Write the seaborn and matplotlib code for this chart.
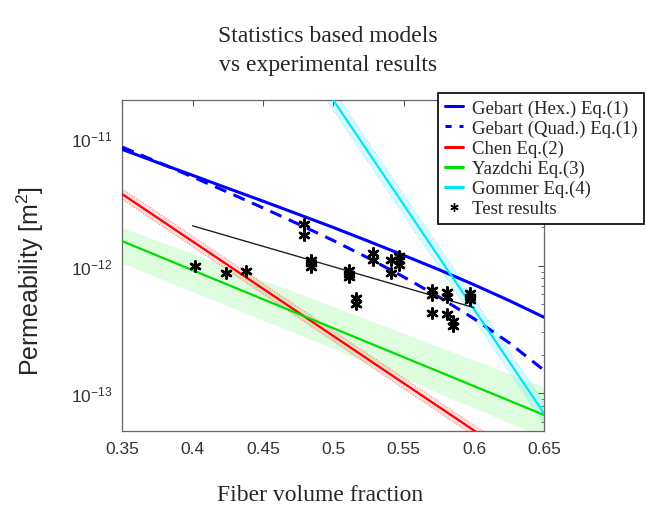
import numpy as np
import pandas as pd
import matplotlib
matplotlib.use("Agg")
import matplotlib.pyplot as plt
from matplotlib.lines import Line2D
from matplotlib.ticker import FixedLocator, NullFormatter, LogLocator
import seaborn as sns

# ---------------- data ----------------
vf_grid = [0.35, 0.375, 0.40, 0.425, 0.45, 0.475, 0.50, 0.525, 0.55, 0.575, 0.60, 0.625, 0.65]
gebart_hex = [8.19e-12, 6.47e-12, 5.13e-12, 4.06e-12, 3.22e-12, 2.54e-12, 2.00e-12,
              1.56e-12, 1.21e-12, 9.34e-13, 7.11e-13, 5.34e-13, 3.94e-13]
gebart_quad = [8.54e-12, 6.53e-12, 4.98e-12, 3.78e-12, 2.85e-12, 2.13e-12, 1.58e-12,
               1.15e-12, 8.19e-13, 5.71e-13, 3.85e-13, 2.49e-13, 1.51e-13]

chen_vf = [0.35, 0.45, 0.55, 0.65]
chen_k = [3.65e-12, 6.62e-13, 1.20e-13, 2.18e-14]
chen_hi = [4.02e-12, 7.28e-13, 1.32e-13, 2.40e-14]
chen_lo = [3.32e-12, 6.02e-13, 1.09e-13, 1.98e-14]

yaz_vf = [0.35, 0.50, 0.65]
yaz_k = [1.56e-12, 3.24e-13, 6.75e-14]
yaz_hi = [2.00e-12, 4.80e-13, 1.12e-13]
yaz_lo = [1.05e-12, 2.24e-13, 4.50e-14]

gom_vf = [0.48, 0.55, 0.60, 0.65]
gom_k = [4.25e-11, 3.02e-12, 4.57e-13, 6.90e-14]
gom_hi = [5.10e-11, 3.62e-12, 5.48e-13, 8.28e-14]
gom_lo = [3.54e-11, 2.52e-12, 3.81e-13, 5.75e-14]

fit_vf = [0.40, 0.60]
fit_k = [2.06e-12, 4.70e-13]

test_vf = [0.402, 0.424, 0.438, 0.479, 0.479, 0.484, 0.484, 0.484, 0.511, 0.511, 0.511,
           0.516, 0.516, 0.528, 0.528, 0.541, 0.541, 0.547, 0.547, 0.547, 0.570, 0.570,
           0.570, 0.581, 0.581, 0.581, 0.585, 0.585, 0.597, 0.597, 0.597]
test_k = [1.00e-12, 8.8e-13, 9.1e-13, 2.12e-12, 1.75e-12, 1.11e-12, 1.05e-12, 9.8e-13,
          9.3e-13, 8.7e-13, 8.1e-13, 5.6e-13, 5.0e-13, 1.27e-12, 1.11e-12, 1.11e-12,
          8.8e-13, 1.20e-12, 1.11e-12, 1.02e-12, 6.5e-13, 5.9e-13, 4.3e-13, 6.2e-13,
          5.7e-13, 4.2e-13, 3.7e-13, 3.4e-13, 6.1e-13, 5.7e-13, 5.4e-13]

xticks = [0.35, 0.40, 0.45, 0.50, 0.55, 0.60, 0.65]
xtick_labels = ["0.35", "0.4", "0.45", "0.5", "0.55", "0.6", "0.65"]
yticks = [1e-13, 1e-12, 1e-11]
ytick_labels = ["$10^{-13}$", "$10^{-12}$", "$10^{-11}$"]
legend_labels = ["Gebart (Hex.) Eq.(1)", "Gebart (Quad.) Eq.(1)", "Chen Eq.(2)",
                 "Yazdchi Eq.(3)", "Gommer Eq.(4)", "Test results"]

# ---------------- style ----------------
sns.set_style("white")
plt.rcParams['font.family'] = ['Liberation Sans', 'DejaVu Sans']
plt.rcParams['mathtext.fontset'] = 'custom'
plt.rcParams['mathtext.rm'] = 'Liberation Sans'
plt.rcParams['mathtext.it'] = 'Liberation Sans:italic'

W, H = 646, 506
fig = plt.figure(figsize=(W / 100, H / 100), dpi=100)
ax = fig.add_axes([122.3 / W, 1 - 432 / H, 422 / W, 331 / H])
ax.set_yscale("log")

# bands
ax.fill_between(yaz_vf, yaz_lo, yaz_hi, color="#00ee00", alpha=0.13, lw=0, zorder=1)
ax.fill_between(chen_vf, chen_lo, chen_hi, color="#ff0000", alpha=0.13, lw=0, zorder=1)
ax.fill_between(gom_vf, gom_lo, gom_hi, color="#00e5ff", alpha=0.15, lw=0, zorder=1)
for xs, ys, c in [(chen_vf, chen_hi, "#ff8080"), (chen_vf, chen_lo, "#ff8080"),
                  (gom_vf, gom_hi, "#80f0ff"), (gom_vf, gom_lo, "#80f0ff")]:
    sns.lineplot(x=xs, y=ys, ax=ax, color=c, lw=0.8, linestyle=(0, (1, 1.5)), zorder=2)

# model curves
sns.lineplot(x=vf_grid, y=gebart_hex, ax=ax, color="#0000ff", lw=2.2, zorder=4)
sns.lineplot(x=vf_grid, y=gebart_quad, ax=ax, color="#0000ff", lw=2.2,
             linestyle=(0, (4, 2.6)), zorder=4)
sns.lineplot(x=chen_vf, y=chen_k, ax=ax, color="#ff0000", lw=1.6, zorder=4)
sns.lineplot(x=yaz_vf, y=yaz_k, ax=ax, color="#00dd00", lw=1.6, zorder=4)
sns.lineplot(x=gom_vf, y=gom_k, ax=ax, color="#00e5ff", lw=1.6, zorder=4)
sns.lineplot(x=fit_vf, y=fit_k, ax=ax, color="#222222", lw=1.0, zorder=5)

# test results
sns.scatterplot(x=test_vf, y=test_k, ax=ax, marker=(6, 2, 0), s=55, color="black",
                edgecolor="black", linewidth=1.8, zorder=6)

ax.set_xlim(0.35, 0.65)
ax.set_ylim(5.06e-14, 2.0e-11)
ax.set_xticks(xticks)
ax.set_xticklabels(xtick_labels)
ax.yaxis.set_major_locator(FixedLocator(yticks))
ax.set_yticklabels(ytick_labels)
ax.yaxis.set_minor_locator(LogLocator(base=10, subs=np.arange(2, 10), numticks=20))
ax.yaxis.set_minor_formatter(NullFormatter())
ax.tick_params(axis="both", which="both", direction="in", top=True, right=True,
               colors="#555555", labelcolor="#333333", labelsize=12.5)
ax.tick_params(which="major", length=4, width=0.8, pad=7)
ax.tick_params(which="minor", length=2, width=0.6)
for s in ax.spines.values():
    s.set_color("#666666")
    s.set_linewidth(0.9)
ax.set_xlabel("")
ax.set_ylabel("")

# legend
handles = [
    Line2D([], [], color="#0000ff", lw=2.2),
    Line2D([], [], color="#0000ff", lw=2.2, linestyle=(0, (2, 2.6))),
    Line2D([], [], color="#ff0000", lw=2.2),
    Line2D([], [], color="#00dd00", lw=2.2),
    Line2D([], [], color="#00e5ff", lw=2.2),
    Line2D([], [], color="black", lw=0, marker=(6, 2, 0), markersize=6, markeredgewidth=1.0),
]
leg = ax.legend(handles, legend_labels, loc="upper left",
                bbox_to_anchor=(438 / W, 1 - 94 / H), bbox_transform=fig.transFigure,
                borderaxespad=0, frameon=True, fancybox=False, framealpha=1,
                edgecolor="black", prop={"family": "Liberation Serif", "size": 13.5},
                handlelength=1.0, handletextpad=0.45, labelspacing=0.15,
                borderpad=0.35)
leg.get_frame().set_linewidth(1.2)
leg.set_zorder(10)

# texts
fig.text(327.6 / W, 1 - 51 / H, "Statistics based models\nvs experimental results",
         ha="center", va="center", fontsize=17, family="Liberation Serif", linespacing=1.55)
fig.text(320 / W, 1 - 496 / H, "Fiber volume fraction", ha="center", va="center",
         fontsize=17, family="Liberation Serif")
fig.text(30 / W, 1 - 281 / H, "Permeability [m$^2$]", ha="center", va="center",
         rotation=90, fontsize=18, family="Liberation Sans")

fig.savefig("out.png", dpi=100)
